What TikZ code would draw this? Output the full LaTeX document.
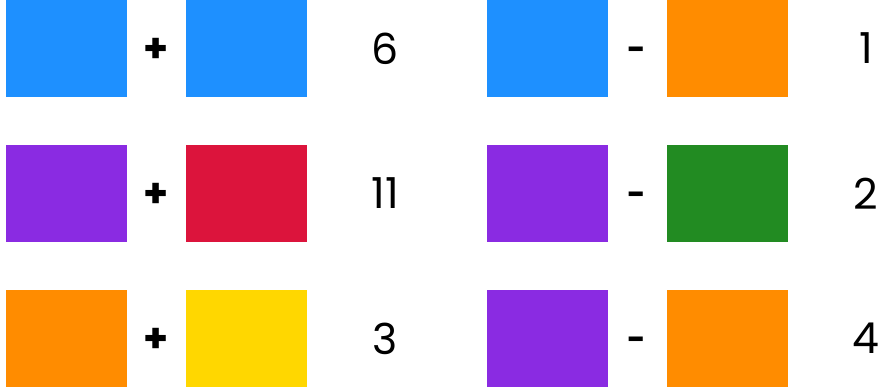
\documentclass[tikz,border=0pt]{standalone}
\usepackage{fontspec}
\setmainfont{Poppins}
\usetikzlibrary{positioning}

\definecolor{dodgerblue}{HTML}{1E90FF}
\definecolor{blueviolet}{HTML}{8A2BE2}
\definecolor{crimson}{HTML}{DC143C}
\definecolor{darkorange}{HTML}{FF8C00}
\definecolor{gold}{HTML}{FFD700}
\definecolor{forestgreen}{HTML}{228B22}

\tikzset{
    tile/.style={rectangle, inner sep=0pt, minimum width=90.75pt, minimum height=72.75pt, fill=#1},
    opsign/.style={inner sep=0pt, font=\fontsize{30}{34}\selectfont\bfseries},
    result/.style={inner sep=0pt, font=\fontsize{32}{38}\selectfont}
}

\begin{document}
\begin{tikzpicture}[x=0.75pt, y=-0.75pt]
    \useasboundingbox (0,0) rectangle (879,392);
    \foreach \i/\y/\a/\b/\n/\c/\d/\m in {
        1/48.5/dodgerblue/dodgerblue/6/dodgerblue/darkorange/1,
        2/193.5/blueviolet/crimson/11/blueviolet/forestgreen/2,
        3/338.5/darkorange/gold/3/blueviolet/darkorange/4} {
        % sums on the left
        \node[tile=\a] (sumA\i) at (66.5,\y) {};
        \node[tile=\b] (sumB\i) at (246.5,\y) {};
        \node[opsign] (plus\i) at (156,\y+2) {+};
        \node[result] (sum\i) at (385,\y) {\n};
        % differences on the right
        \node[tile=\c] (difA\i) at (547.5,\y) {};
        \node[tile=\d] (difB\i) at (727.5,\y) {};
        \node[opsign, font=\fontsize{24}{28}\selectfont\bfseries] (minus\i) at (637,\y+5) {-};
        \node[result] (dif\i) at (866,\y) {\m};
    }
\end{tikzpicture}
\end{document}
